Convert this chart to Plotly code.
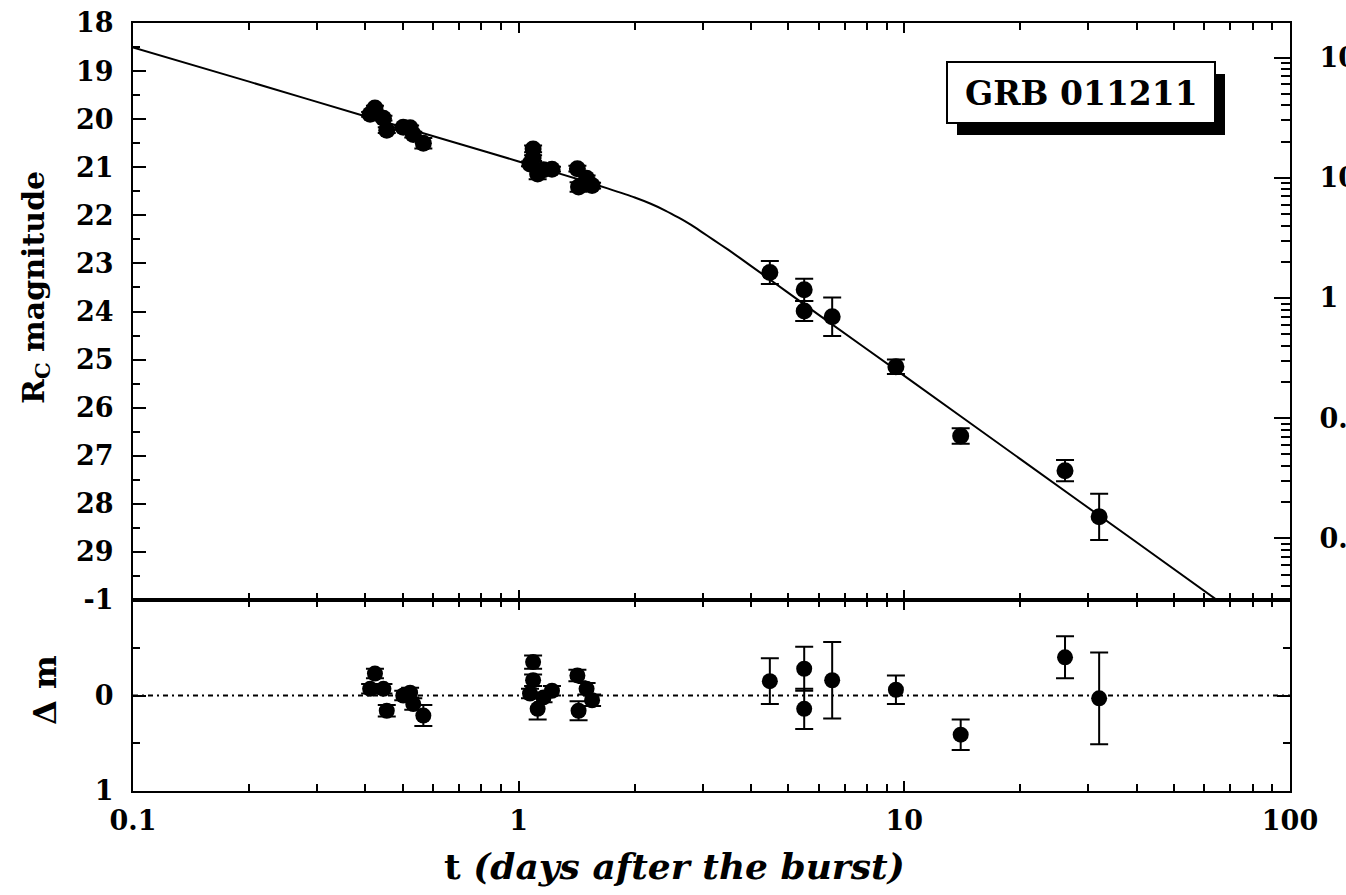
import plotly.graph_objects as go

# ---- photometry (R_C) of the afterglow ----
t_days = [0.412, 0.424, 0.446, 0.455, 0.502, 0.523, 0.533, 0.566,
          1.07, 1.09, 1.09, 1.12, 1.16, 1.22, 1.42, 1.43, 1.50, 1.55,
          4.48, 5.50, 5.50, 6.50, 9.51, 14.0, 26.1, 32.0]
mag = [19.90, 19.77, 19.98, 20.23, 20.17, 20.18, 20.32, 20.50,
       20.93, 20.62, 20.81, 21.14, 21.05, 21.04, 21.03, 21.41, 21.23, 21.38,
       23.19, 23.55, 23.99, 24.11, 25.15, 26.59, 27.31, 28.27]
mag_err = [0.05, 0.05, 0.05, 0.06, 0.05, 0.05, 0.06, 0.11,
           0.05, 0.07, 0.06, 0.11, 0.05, 0.05, 0.06, 0.10, 0.06, 0.06,
           0.24, 0.23, 0.21, 0.40, 0.15, 0.16, 0.22, 0.48]
# residuals with respect to the fitted light curve
delta_m = [-0.07, -0.23, -0.07, 0.16, 0.00, -0.03, 0.09, 0.21,
           -0.02, -0.35, -0.16, 0.14, 0.02, -0.05, -0.21, 0.16, -0.07, 0.05,
           -0.15, -0.28, 0.14, -0.16, -0.06, 0.41, -0.40, 0.03]

# ---- fitted broken power-law light curve ----
fit_t = [0.1, 0.2, 0.4, 0.7, 1.0, 1.5, 1.7, 2.0, 2.2, 2.4, 2.6, 2.8, 3.0,
         3.2, 3.5, 4.0, 6.0, 10.0, 20.0, 40.0, 100.0]
fit_mag = [18.51, 19.22, 19.94, 20.51, 20.88, 21.30, 21.44, 21.63, 21.76,
           21.90, 22.05, 22.20, 22.36, 22.51, 22.72, 23.05, 24.07, 25.34,
           27.07, 28.80, 31.09]

# ---- axes ----
mag_ticks = list(range(18, 30))
res_ticks = [-1, 0, 1]
res_ticktext = ["-1", "0", "1"]
t_ticks = [0.1, 1, 10, 100]
t_ticktext = ["0.1", "1", "10", "100"]
flux_ticks = [0.01, 0.1, 1, 10, 100]
flux_ticktext = ["0.01", "0.1", "1", "10", "100"]
zero_point = 23.72   # R_C magnitude of 1 microJy
mag_top, mag_bottom = 18, 30

FONT = "DejaVu Serif"
W, H = 1346, 895
L, R, T, B = 133, 56, 23, 104
PW, PH = W - L - R, H - T - B
split = 191 / PH


def px(xp):
    return (xp - L) / PW


def py(yp):
    return (H - B - yp) / PH


tick_font = dict(family=FONT, size=27, color="black", weight="bold")
t_minor = [m * 10 ** d for d in (-1, 0, 1) for m in range(2, 10)]
flux_minor = [m * 10 ** d for d in (-3, -2, -1, 0, 1, 2) for m in range(2, 10)]

fig = go.Figure()

fig.add_trace(go.Scatter(
    x=fit_t, y=fit_mag, mode="lines", xaxis="x2", yaxis="y2",
    line=dict(color="black", width=2, shape="spline", smoothing=0.5),
    hoverinfo="skip", showlegend=False))

fig.add_trace(go.Scatter(
    x=t_days, y=mag, mode="markers", xaxis="x2", yaxis="y2",
    marker=dict(color="black", size=17, symbol="circle"),
    error_y=dict(type="data", array=mag_err, color="black", thickness=2, width=9),
    showlegend=False))

fig.add_trace(go.Scatter(
    x=t_days, y=delta_m, mode="markers", xaxis="x", yaxis="y",
    marker=dict(color="black", size=16, symbol="circle"),
    error_y=dict(type="data", array=mag_err, color="black", thickness=2, width=9),
    showlegend=False))

# flux scale on the right of the upper panel
fig.add_trace(go.Scatter(x=[], y=[], xaxis="x2", yaxis="y3",
                         mode="markers", showlegend=False))

axis_common = dict(showline=True, linecolor="black", linewidth=2,
                   showgrid=False, zeroline=False, ticks="inside",
                   tickcolor="black", tickwidth=2, tickfont=tick_font,
                   automargin=False)

fig.update_layout(
    width=W, height=H,
    margin=dict(l=L, r=R, t=T, b=B, autoexpand=False),
    paper_bgcolor="white", plot_bgcolor="white",
    xaxis=dict(**axis_common, type="log", range=[-1, 2], anchor="y",
               domain=[0, 1], mirror="ticks", ticklen=10,
               tickvals=t_ticks, ticktext=t_ticktext, ticklabelstandoff=5,
               minor=dict(tickvals=t_minor, ticks="inside", ticklen=7,
                          tickwidth=2, tickcolor="black")),
    xaxis2=dict(**axis_common, type="log", range=[-1, 2], anchor="y2",
                matches="x", domain=[0, 1], mirror="ticks", ticklen=10,
                tickvals=t_ticks, showticklabels=False,
                minor=dict(tickvals=t_minor, ticks="inside", ticklen=7,
                           tickwidth=2, tickcolor="black")),
    yaxis=dict(**axis_common, range=[1, -1], domain=[0, split], anchor="x",
               mirror="ticks", ticklen=13, tickvals=res_ticks,
               ticktext=res_ticktext, ticklabelstandoff=12,
               minor=dict(tickvals=[-0.5, 0.5], ticks="inside", ticklen=7,
                          tickwidth=2, tickcolor="black")),
    yaxis2=dict(**axis_common, range=[mag_bottom, mag_top], domain=[split, 1],
                anchor="x2", mirror=True, ticklen=13, tickvals=mag_ticks,
                ticklabelstandoff=12,
                minor=dict(tickvals=[m + 0.5 for m in mag_ticks], ticks="inside",
                           ticklen=7, tickwidth=2, tickcolor="black")),
    yaxis3=dict(**axis_common, type="log", overlaying="y2", side="right",
                anchor="x2",
                range=[(zero_point - mag_bottom) / 2.5, (zero_point - mag_top) / 2.5],
                ticklen=16, tickvals=flux_ticks, ticktext=flux_ticktext,
                ticklabelstandoff=22,
                minor=dict(tickvals=flux_minor, ticks="inside", ticklen=9,
                           tickwidth=2, tickcolor="black")),
)

# dotted zero line of the residual panel
fig.add_shape(type="line", xref="x domain", yref="y", x0=0, x1=1, y0=0, y1=0,
              line=dict(color="black", width=2, dash="5px,4px,2px,4px"))

# label box with a drop shadow
fig.add_shape(type="rect", xref="paper", yref="paper",
              x0=px(957), x1=px(1225), y0=py(135), y1=py(74),
              fillcolor="black", line=dict(width=0))
fig.add_shape(type="rect", xref="paper", yref="paper",
              x0=px(947), x1=px(1215), y0=py(123), y1=py(62),
              fillcolor="white", line=dict(color="black", width=2))

text_pos = dict(xref="paper", yref="paper", showarrow=False,
                xanchor="center", yanchor="middle")
fig.add_annotation(text="GRB 011211", x=px(1081), y=py(93), **text_pos,
                   font=dict(family=FONT, size=33, color="black", weight="bold"))

# axis titles
fig.add_annotation(text="R<sub>C</sub> magnitude", x=px(35), y=py(288),
                   textangle=-90, **text_pos,
                   font=dict(family=FONT, size=30, color="black", weight="bold"))
fig.add_annotation(text="\u0394 m", x=px(45), y=py(690), textangle=-90, **text_pos,
                   font=dict(family=FONT, size=32, color="black", weight="bold"))
fig.add_annotation(text="t <i>(days after the burst)</i>", x=px(674), y=py(866),
                   **text_pos,
                   font=dict(family=FONT, size=36, color="black", weight="bold"))

fig.write_html("out.html")
